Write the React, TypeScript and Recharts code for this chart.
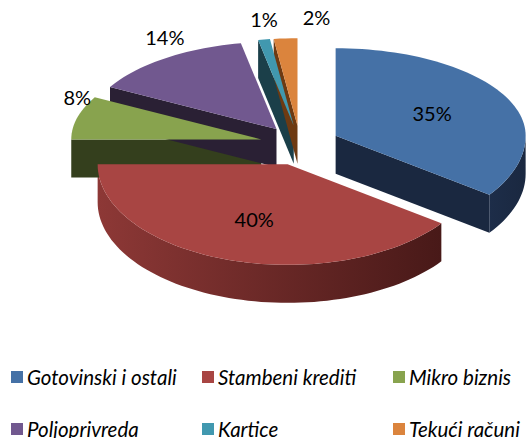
import { PieChart, Pie, Cell, Legend } from "recharts";

const categories = [
  "Gotovinski i ostali",
  "Stambeni krediti",
  "Mikro biznis",
  "Poljoprivreda",
  "Kartice",
  "Tekući računi",
];
const shares = [35, 40, 8, 14, 1, 2];

const topColors = ["#4571a6", "#a84543", "#88a34e", "#71588f", "#4198af", "#db843d"];
const sideLight = ["#1d2d49", "#8d3836", "#3a4621", "#2f243b", "#1f4853", "#8a4d1d"];
const sideDark = ["#1a2840", "#481918", "#343f1d", "#2a2034", "#1b3f49", "#6e3a12"];

const data = categories.map((name, i) => ({ name, value: shares[i], idx: i }));

const CX = 300;
const CY = 144;
const R = 190;
const K_BACK = 0.46;
const K_FRONT = 0.53;
const DEPTH = 38;
const EXPLODE = 40;

const pt = (cx: number, cy: number, r: number, a: number) => {
  const rad = (a * Math.PI) / 180;
  const s = Math.sin(rad);
  return [cx + r * Math.cos(rad), cy - r * s * (s > 0 ? K_BACK : K_FRONT)];
};

const arcPts = (cx: number, cy: number, r: number, from: number, to: number) => {
  const n = Math.max(2, Math.ceil(Math.abs(to - from) / 2));
  const out: number[][] = [];
  for (let i = 0; i <= n; i++) out.push(pt(cx, cy, r, from + ((to - from) * i) / n));
  return out;
};

const toPath = (pts: number[][]) =>
  "M" + pts.map((p) => `${p[0].toFixed(2)},${p[1].toFixed(2)}`).join("L") + "Z";

const apexOf = (p: any) => {
  const off = pt(0, 0, EXPLODE, p.midAngle);
  return [p.cx + off[0], p.cy + off[1]];
};

const TopShape = (p: any) => {
  const [ax, ay] = apexOf(p);
  const pts = [[ax, ay], ...arcPts(ax, ay, p.outerRadius, p.startAngle, p.endAngle)];
  return <path d={toPath(pts)} fill={p.fill} stroke="none" />;
};

const SideShape = (p: any) => {
  const idx = p.payload?.idx ?? p.idx ?? 0;
  const [ax, ay] = apexOf(p);
  const r = p.outerRadius;
  const a1 = p.startAngle;
  const a2 = p.endAngle;
  const lo = Math.min(a1, a2);
  const hi = Math.max(a1, a2);
  const parts: JSX.Element[] = [];
  const wall = (a: number, key: string) => {
    const e = pt(ax, ay, r, a);
    parts.push(
      <path
        key={key}
        d={toPath([[ax, ay], e, [e[0], e[1] + DEPTH], [ax, ay + DEPTH]])}
        fill={sideDark[idx]}
      />
    );
  };
  if (Math.cos((a1 * Math.PI) / 180) < -0.001) wall(a1, "s");
  if (Math.cos((a2 * Math.PI) / 180) > 0.001) wall(a2, "e");
  [[-540, -360], [-180, 0], [180, 360]].forEach(([f0, f1], k) => {
    const from = Math.max(lo, f0);
    const to = Math.min(hi, f1);
    if (to - from > 0.01) {
      const top = arcPts(ax, ay, r, from, to);
      const bottom = top.map((q) => [q[0], q[1] + DEPTH]).reverse();
      parts.push(<path key={"o" + k} d={toPath([...top, ...bottom])} fill={`url(#side${idx})`} />);
    }
  });
  return <g>{parts}</g>;
};

const renderLabel = (p: any) => {
  const [ax, ay] = apexOf(p);
  const inside = p.percent > 0.3;
  let x: number;
  let y: number;
  if (inside) {
    [x, y] = pt(ax, ay, p.outerRadius * 0.57, p.midAngle);
  } else {
    [x, y] = pt(ax, ay, p.outerRadius, p.midAngle);
    y -= 21;
    const prev = data[p.index - 1];
    if (p.percent < 0.03 && prev && prev.value < 3) x += 31;
  }
  return (
    <text
      key={"l" + p.index}
      x={x}
      y={y}
      textAnchor="middle"
      dominantBaseline="central"
      fill="#000"
      fontSize={20}
      fontFamily="Lato, sans-serif"
    >
      {`${Math.round(p.percent * 100)}%`}
    </text>
  );
};

// legend drawn in the series order (recharts would sort it by name)
const LegendContent = () => (
  <div
    style={{
      display: "grid",
      gridTemplateColumns: "191px 191px 144px",
      rowGap: 28,
      paddingLeft: 11,
      fontFamily: "Lato, sans-serif",
      fontStyle: "italic",
      fontSize: 20.5,
      color: "#000",
    }}
  >
    {categories.map((c, i) => (
      <div key={c} style={{ display: "flex", alignItems: "center", height: 24, whiteSpace: "nowrap" }}>
        <span style={{ width: 12, height: 12, background: topColors[i], marginRight: 4, flex: "none" }} />
        {c}
      </div>
    ))}
  </div>
);

export default function App() {
  return (
    <div style={{ position: "absolute", left: 0, top: 0, width: 526, height: 438, background: "#fff" }}>
      <PieChart width={526} height={438} margin={{ top: 0, right: 0, bottom: 0, left: 0 }}>
        <defs>
          {categories.map((c, i) => (
            <linearGradient key={c} id={`side${i}`} x1="0" y1="0" x2="1" y2="0">
              <stop offset="0%" stopColor={sideLight[i]} />
              <stop offset="100%" stopColor={sideDark[i]} />
            </linearGradient>
          ))}
        </defs>
        <Pie
          data={data}
          dataKey="value"
          nameKey="name"
          cx={CX}
          cy={CY}
          outerRadius={R}
          startAngle={90}
          endAngle={-270}
          stroke="none"
          legendType="none"
          shape={SideShape}
          inactiveShape={SideShape}
          isAnimationActive={false}
        >
          {data.map((d) => (
            <Cell key={d.name} fill={topColors[d.idx]} />
          ))}
        </Pie>
        <Pie
          data={data}
          dataKey="value"
          nameKey="name"
          cx={CX}
          cy={CY}
          outerRadius={R}
          startAngle={90}
          endAngle={-270}
          stroke="none"
          shape={TopShape}
          inactiveShape={TopShape}
          label={renderLabel}
          labelLine={false}
          isAnimationActive={false}
        >
          {data.map((d) => (
            <Cell key={d.name} fill={topColors[d.idx]} />
          ))}
        </Pie>
        <Legend
          content={LegendContent}
          wrapperStyle={{ position: "absolute", left: 0, top: 365, width: 526 }}
        />
      </PieChart>
    </div>
  );
}
